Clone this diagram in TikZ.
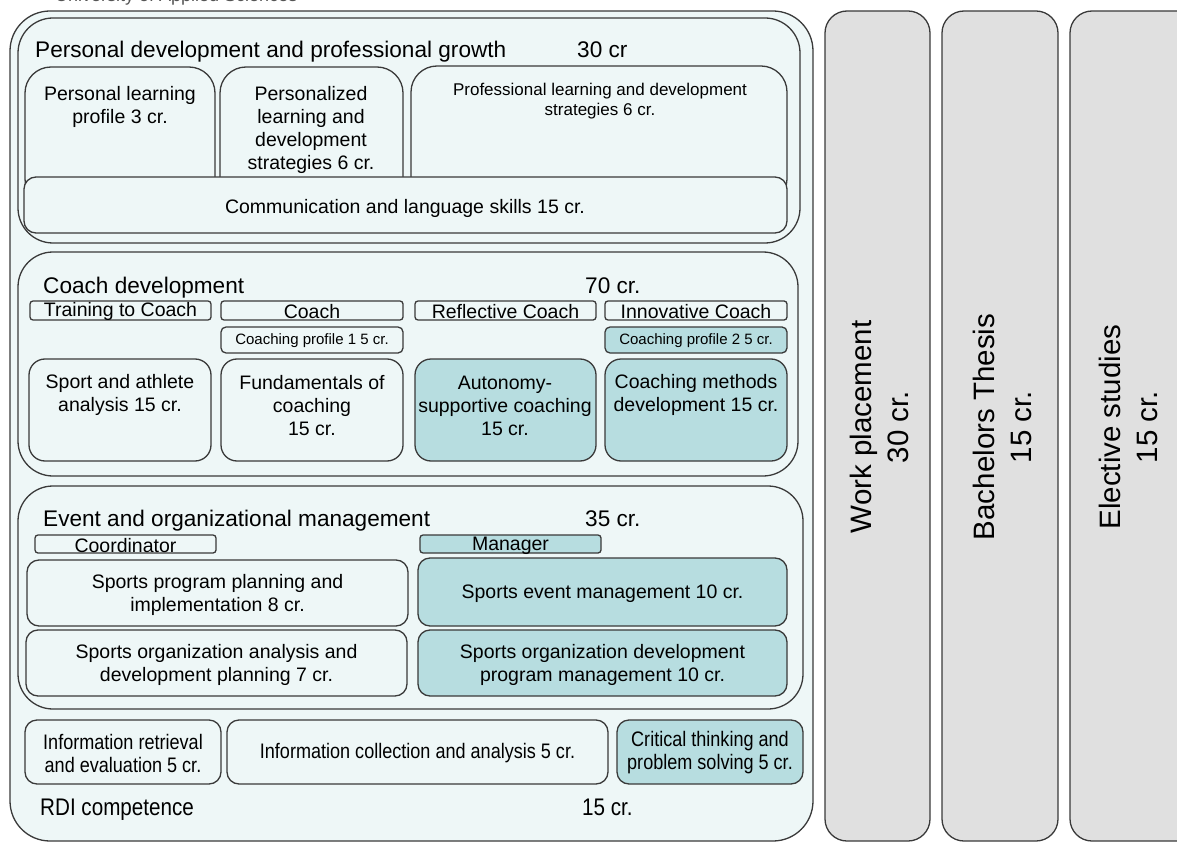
\documentclass[tikz,border=0pt]{standalone}
\usepackage{fontspec}
\setmainfont{Liberation Sans}
\newfontfamily\narrowfont[FakeStretch=0.86]{Liberation Sans}
\usetikzlibrary{fit}
\definecolor{bgc}{HTML}{EEF7F7}
\definecolor{tealc}{HTML}{B7DDE0}
\definecolor{grayc}{HTML}{E0E0E0}
\definecolor{linec}{HTML}{3A3A3A}
\definecolor{topc}{HTML}{555555}
\tikzset{
  shp/.style={draw=linec, line width=1.3pt, inner sep=0pt, outer sep=0pt},
  area/.style={shp, fill=bgc, rounded corners=35pt},
  wbox/.style={shp, fill=bgc, rounded corners=#1},
  tbox/.style={shp, fill=tealc, rounded corners=#1},
  gbox/.style={shp, fill=grayc, rounded corners=22pt},
  ttl/.style={anchor=base west, inner sep=0pt, font=\fontsize{22.6}{26}\selectfont},
  txt/.style={align=center, inner sep=0pt, yshift=-2pt, font=\fontsize{19.5}{23}\selectfont},
  hdr/.style={align=center, inner sep=0pt, font=\fontsize{19.5}{22}\selectfont},
  stxt/.style={align=center, inner sep=0pt, font=\fontsize{17}{20}\selectfont},
  cptxt/.style={align=center, inner sep=0pt, yshift=-1pt, font=\fontsize{15}{18}\selectfont},
  ntxt/.style={align=center, inner sep=0pt, yshift=-1pt, font=\narrowfont\fontsize{21}{23}\selectfont},
  nttl/.style={anchor=base west, inner sep=0pt, font=\narrowfont\fontsize{24}{28}\selectfont},
  vtxt/.style={align=center, inner sep=0pt, rotate=90, font=\fontsize{29.5}{37}\selectfont},
}
\newcommand\rb[6]{\node[#6, fit={(#2,#3) (#4,#5)}] (#1) {};}
\begin{document}
\begin{tikzpicture}[x=1pt,y=-1pt]
\useasboundingbox (0,0) rectangle (1177,842);
% top cut text
\node[anchor=base west, inner sep=0pt, text=topc, font=\fontsize{18}{20}\selectfont] (uas) at (55,2) {University of Applied Sciences};
% outer area
\rb{outer}{10}{11}{813}{841}{wbox=40pt}
% personal development
\rb{pers}{18}{18}{800}{243}{area}
\node[ttl] (perst) at (35,58) {Personal development and professional growth};
\node[ttl] (persc) at (577,58) {30 cr};
\rb{p1}{25}{67}{215}{205}{wbox=26pt}
\rb{p2}{220}{67}{403}{205}{wbox=26pt}
\rb{p3}{411}{66}{787}{205}{wbox=26pt}
\rb{comm}{24}{177}{787}{233}{wbox=12pt}
\node[txt] (p1t) at (120,105) {Personal learning\\profile 3 cr.};
\node[txt] (p2t) at (311,128) {Personalized\\learning and\\development\\strategies 6 cr.};
\node[stxt] (p3t) at (600,101) {Professional learning and development\\strategies 6 cr.};
\node[txt] (commt) at (405,206) {Communication and language skills 15 cr.};
% coach development
\rb{coach}{18}{252}{798}{476}{area}
\node[ttl] (coacht) at (43,293) {Coach development};
\node[ttl] (coachc) at (585,293) {70 cr.};
\rb{h1}{30}{301}{211}{320}{wbox=3pt}
\rb{h2}{221}{301}{403}{320}{wbox=3pt}
\rb{h3}{415}{301}{596}{320}{wbox=3pt}
\rb{h4}{605}{301}{787}{320}{wbox=3pt}
\node[hdr] at ([yshift=-1pt]h1.center) {Training to Coach};
\node[hdr] at ([yshift=-1pt]h2.center) {Coach};
\node[hdr] at ([yshift=-1pt]h3.center) {Reflective Coach};
\node[hdr] at ([yshift=-1pt]h4.center) {Innovative Coach};
\rb{cp1}{221}{327}{403}{353}{wbox=5pt}
\rb{cp2}{605}{327}{787}{353}{tbox=5pt}
\node[cptxt] at (cp1.center) {Coaching profile 1 5 cr.};
\node[cptxt] at (cp2.center) {Coaching profile 2 5 cr.};
\rb{c1}{29}{359}{211}{461}{wbox=16pt}
\rb{c2}{221}{359}{403}{461}{wbox=16pt}
\rb{c3}{415}{359}{596}{461}{tbox=16pt}
\rb{c4}{605}{359}{787}{461}{tbox=16pt}
\node[txt] at (120,393) {Sport and athlete\\analysis 15 cr.};
\node[txt] at (312,404) {Fundamentals of\\coaching\\15 cr.};
\node[txt] at (505,404) {Autonomy-\\supportive coaching\\15 cr.};
\node[txt] at (696,393) {Coaching methods\\development 15 cr.};
% event management
\rb{event}{18}{486}{803}{709}{area}
\node[ttl] (eventt) at (43,526) {Event and organizational management};
\node[ttl] (eventc) at (585,526) {35 cr.};
\rb{coord}{35}{535}{216}{553}{wbox=3pt}
\rb{mgr}{420}{535}{601}{553}{tbox=3pt}
\node[hdr] at ([yshift=-2pt]coord.center) {Coordinator};
\node[hdr] at ([yshift=-2pt]mgr.center) {Manager};
\rb{e1}{27}{560}{408}{626}{wbox=12pt}
\rb{e2}{418}{558}{787}{626}{tbox=12pt}
\rb{e3}{26}{630}{407}{696}{wbox=12pt}
\rb{e4}{418}{630}{787}{696}{tbox=12pt}
\node[txt] at (e1.center) {Sports program planning and\\implementation 8 cr.};
\node[txt] at (e2.center) {Sports event management 10 cr.};
\node[txt] at (e3.center) {Sports organization analysis and\\development planning 7 cr.};
\node[txt] at (e4.center) {Sports organization development\\program management 10 cr.};
% RDI
\rb{r1}{25}{720}{221}{784}{wbox=12pt}
\rb{r2}{227}{720}{608}{784}{wbox=12pt}
\rb{r3}{617}{720}{803}{784}{tbox=12pt}
\node[ntxt] at (r1.center) {Information retrieval\\and evaluation 5 cr.};
\node[ntxt] at (r2.center) {Information collection and analysis 5 cr.};
\node[ntxt] at (r3.center) {Critical thinking and\\problem solving 5 cr.};
\node[nttl] (rdit) at (40,815) {RDI competence};
\node[nttl] (rdic) at (582,815) {15 cr.};
% right columns
\rb{g1}{825}{11}{930}{841}{gbox}
\rb{g2}{942}{11}{1058}{841}{gbox}
\rb{g3}{1070}{11}{1200}{841}{gbox}
\node[vtxt] at (879,427) {Work placement\\30 cr.};
\node[vtxt] at (1002,427) {Bachelors Thesis\\15 cr.};
\node[vtxt] at (1128,427) {Elective studies\\15 cr.};
\end{tikzpicture}
\end{document}
